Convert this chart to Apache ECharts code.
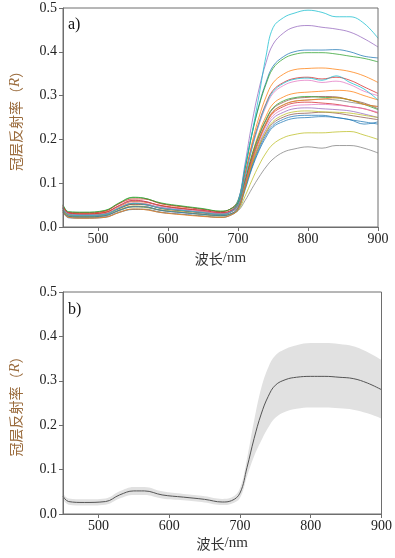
<!DOCTYPE html>
<html><head><meta charset="utf-8">
<script src="https://cdn.jsdelivr.net/npm/echarts@6/dist/echarts.min.js"></script>
<style>html,body{margin:0;padding:0;background:#fff}#c{width:395px;height:558px}</style>
</head><body><div id="c"></div>
<script>
// wavelengths (nm)
const wavelengths = [450, 458, 480, 510, 530, 550, 565, 590, 620, 650, 675, 688, 700, 710, 720, 730, 740, 750, 765, 780, 800, 820, 840, 860, 880, 900];

// panel a) individual canopy spectra
const spec0  = [0.046,0.031,0.029,0.033,0.048,0.059,0.058,0.048,0.042,0.037,0.032,0.036,0.058,0.132,0.213,0.279,0.330,0.367,0.389,0.400,0.404,0.404,0.405,0.400,0.390,0.386];
const spec1  = [0.047,0.030,0.030,0.034,0.047,0.058,0.057,0.049,0.043,0.036,0.031,0.036,0.056,0.121,0.192,0.251,0.297,0.329,0.349,0.359,0.362,0.363,0.360,0.355,0.345,0.330];
const spec2  = [0.050,0.034,0.033,0.037,0.054,0.067,0.066,0.054,0.047,0.041,0.036,0.040,0.061,0.133,0.212,0.276,0.326,0.362,0.384,0.394,0.398,0.398,0.395,0.390,0.385,0.377];
const spec3  = [0.049,0.033,0.032,0.036,0.053,0.064,0.064,0.053,0.046,0.040,0.035,0.040,0.058,0.119,0.185,0.239,0.282,0.312,0.330,0.339,0.342,0.338,0.342,0.335,0.320,0.305];
const spec4  = [0.042,0.028,0.026,0.029,0.043,0.053,0.052,0.043,0.038,0.033,0.029,0.033,0.059,0.144,0.238,0.315,0.375,0.417,0.443,0.456,0.460,0.456,0.452,0.445,0.430,0.411];
const spec5  = [0.043,0.027,0.027,0.030,0.042,0.052,0.051,0.044,0.038,0.034,0.030,0.033,0.049,0.101,0.159,0.207,0.243,0.270,0.285,0.293,0.296,0.298,0.297,0.290,0.283,0.270];
const spec6  = [0.045,0.031,0.028,0.032,0.048,0.060,0.059,0.047,0.041,0.037,0.032,0.036,0.054,0.114,0.180,0.233,0.275,0.305,0.323,0.332,0.335,0.330,0.333,0.325,0.310,0.300];
const spec7  = [0.038,0.025,0.023,0.026,0.038,0.047,0.046,0.038,0.033,0.029,0.026,0.029,0.037,0.060,0.088,0.114,0.137,0.155,0.171,0.178,0.183,0.180,0.186,0.186,0.180,0.169];
const spec8  = [0.039,0.024,0.024,0.027,0.037,0.046,0.045,0.039,0.034,0.028,0.025,0.029,0.038,0.070,0.107,0.141,0.169,0.189,0.204,0.211,0.215,0.215,0.217,0.218,0.210,0.200];
const spec9  = [0.041,0.029,0.027,0.029,0.044,0.054,0.053,0.044,0.038,0.033,0.029,0.033,0.058,0.137,0.215,0.300,0.390,0.455,0.478,0.488,0.495,0.490,0.480,0.480,0.465,0.431];
const spec10 = [0.034,0.021,0.020,0.022,0.033,0.040,0.040,0.033,0.029,0.025,0.022,0.026,0.039,0.084,0.134,0.174,0.205,0.228,0.241,0.248,0.250,0.252,0.250,0.245,0.240,0.235];
const spec11 = [0.044,0.028,0.026,0.030,0.044,0.054,0.053,0.043,0.037,0.033,0.029,0.033,0.050,0.105,0.165,0.215,0.253,0.281,0.297,0.305,0.308,0.310,0.312,0.310,0.300,0.290];
const spec12 = [0.051,0.035,0.034,0.038,0.055,0.068,0.066,0.055,0.048,0.042,0.036,0.040,0.055,0.107,0.164,0.210,0.246,0.272,0.288,0.295,0.298,0.296,0.295,0.290,0.280,0.268];
const spec13 = [0.046,0.032,0.030,0.033,0.049,0.061,0.059,0.049,0.042,0.038,0.033,0.036,0.051,0.101,0.156,0.200,0.235,0.260,0.275,0.283,0.285,0.283,0.280,0.275,0.270,0.260];
const spec14 = [0.037,0.025,0.022,0.025,0.038,0.047,0.047,0.038,0.033,0.029,0.026,0.029,0.044,0.092,0.146,0.189,0.223,0.248,0.262,0.270,0.272,0.270,0.268,0.265,0.258,0.250];
const spec15 = [0.042,0.028,0.025,0.029,0.042,0.052,0.052,0.042,0.037,0.032,0.029,0.033,0.047,0.092,0.142,0.183,0.215,0.237,0.251,0.258,0.260,0.262,0.260,0.255,0.250,0.245];
const spec16 = [0.043,0.029,0.026,0.029,0.044,0.055,0.054,0.044,0.039,0.034,0.030,0.033,0.048,0.097,0.151,0.195,0.230,0.254,0.269,0.277,0.279,0.280,0.278,0.275,0.270,0.262];
const spec17 = [0.035,0.022,0.021,0.023,0.034,0.041,0.041,0.034,0.029,0.025,0.022,0.026,0.042,0.095,0.153,0.200,0.237,0.264,0.279,0.287,0.290,0.292,0.290,0.285,0.280,0.275];
const spec18 = [0.038,0.026,0.023,0.026,0.039,0.048,0.047,0.038,0.034,0.029,0.026,0.029,0.043,0.090,0.142,0.185,0.218,0.241,0.256,0.263,0.265,0.263,0.262,0.260,0.255,0.250];
const spec19 = [0.042,0.028,0.026,0.029,0.043,0.054,0.052,0.043,0.038,0.033,0.029,0.033,0.051,0.113,0.180,0.236,0.279,0.309,0.328,0.337,0.340,0.335,0.345,0.330,0.315,0.290];
const spec20 = [0.037,0.024,0.023,0.026,0.038,0.046,0.046,0.038,0.033,0.029,0.026,0.029,0.043,0.088,0.137,0.178,0.210,0.232,0.246,0.253,0.255,0.255,0.250,0.245,0.235,0.240];
const spec21 = [0.034,0.022,0.020,0.022,0.033,0.041,0.040,0.033,0.028,0.024,0.022,0.026,0.040,0.090,0.148,0.197,0.235,0.263,0.279,0.287,0.290,0.292,0.295,0.290,0.280,0.275];

// panel b) mean and band
const meanCurve  = [0.040,0.028,0.026,0.028,0.043,0.052,0.052,0.043,0.038,0.033,0.027,0.030,0.047,0.105,0.170,0.225,0.265,0.290,0.303,0.308,0.310,0.310,0.308,0.305,0.295,0.280];
const upperCurve = [0.047,0.035,0.033,0.035,0.051,0.061,0.061,0.051,0.045,0.040,0.034,0.037,0.058,0.125,0.210,0.283,0.330,0.357,0.372,0.380,0.385,0.385,0.383,0.378,0.365,0.347];
const lowerCurve = [0.033,0.021,0.019,0.021,0.035,0.043,0.043,0.035,0.031,0.026,0.020,0.023,0.036,0.085,0.130,0.165,0.195,0.217,0.231,0.237,0.240,0.240,0.238,0.235,0.227,0.215];

const xTicks = [500, 600, 700, 800, 900];
const specColors = ['#1f77b4','#ff7f0e','#2ca02c','#d62728','#9467bd','#8c564b','#e377c2','#7f7f7f','#bcbd22','#17becf'];

const spectra = [spec0,spec1,spec2,spec3,spec4,spec5,spec6,spec7,spec8,spec9,spec10,spec11,spec12,spec13,spec14,spec15,spec16,spec17,spec18,spec19,spec20,spec21];
const pairs = arr => arr.map((v, i) => [wavelengths[i], v]);

const serif = 'Liberation Serif';
const cjk = 'Noto Sans CJK SC';
const axisCol = '#6e6e6e';
const SMOOTH = 0.4;

function xAxis(gi, gap) {
  return {
    type: 'value', gridIndex: gi, min: 450, max: 900, z: 10,
    axisLine: { show: true, onZero: false, lineStyle: { color: axisCol, width: 1 } },
    axisTick: { show: true, customValues: xTicks, length: 4, lineStyle: { color: axisCol } },
    axisLabel: { customValues: xTicks, fontFamily: serif, fontSize: 14, color: '#222', margin: 5 },
    splitLine: { show: false },
    name: '{c|波长}{s|/nm}', nameLocation: 'middle', nameGap: gap,
    nameTextStyle: { rich: { c: { fontFamily: cjk, fontSize: 14, color: '#333' }, s: { fontFamily: serif, fontSize: 15, color: '#333' } } }
  };
}
function yAxis(gi) {
  return {
    type: 'value', gridIndex: gi, min: 0, max: 0.5, interval: 0.1, z: 10,
    axisLine: { show: true, onZero: false, lineStyle: { color: axisCol, width: 1 } },
    axisTick: { show: true, length: 4, lineStyle: { color: axisCol } },
    axisLabel: { formatter: v => v.toFixed(1), fontFamily: serif, fontSize: 14, color: '#222', margin: 6 },
    splitLine: { show: false },
    name: '{c|冠层反射率（}{i|R}{c|）}', nameLocation: 'middle', nameGap: 40,
    nameTextStyle: { rich: {
      c: { fontFamily: cjk, fontSize: 14, color: '#9a6b3c' },
      i: { fontFamily: serif, fontStyle: 'italic', fontSize: 15, color: '#9a6b3c' } } }
  };
}

const series = spectra.map((s, k) => ({
  type: 'line', xAxisIndex: 0, yAxisIndex: 0, data: pairs(s), showSymbol: false, smooth: SMOOTH,
  lineStyle: { width: 1, color: specColors[k % 10], opacity: 0.75 }, silent: true
}));

// band: upper filled grey to the axis, lower filled white on top of it
series.push({
  type: 'line', xAxisIndex: 1, yAxisIndex: 1, data: pairs(upperCurve), showSymbol: false, smooth: SMOOTH,
  lineStyle: { width: 0, opacity: 0 }, areaStyle: { color: '#e1e1e1', opacity: 1 }, silent: true, z: 2
});
series.push({
  type: 'line', xAxisIndex: 1, yAxisIndex: 1, data: pairs(lowerCurve), showSymbol: false, smooth: SMOOTH,
  lineStyle: { width: 0, opacity: 0 }, areaStyle: { color: '#ffffff', opacity: 1 }, silent: true, z: 3
});
series.push({
  type: 'line', xAxisIndex: 1, yAxisIndex: 1, data: pairs(meanCurve), showSymbol: false, smooth: SMOOTH,
  lineStyle: { width: 1, color: '#555555' }, silent: true, z: 4
});

const chart = echarts.init(document.getElementById('c'), null, { renderer: 'canvas' });
chart.setOption({
  animation: false,
  backgroundColor: '#ffffff',
  grid: [
    { left: 59, top: 8, width: 319, height: 219, show: true, z: 10, borderColor: axisCol, borderWidth: 1, backgroundColor: 'transparent' },
    { left: 59, top: 292, width: 325, height: 222, show: true, z: 10, borderColor: axisCol, borderWidth: 1, backgroundColor: 'transparent' }
  ],
  xAxis: [xAxis(0, 24), xAxis(1, 22)],
  yAxis: [yAxis(0), yAxis(1)],
  graphic: [
    { type: 'text', left: 68, top: 17, style: { text: 'a)', font: '16px "Liberation Serif"', fill: '#111' } },
    { type: 'text', left: 68, top: 302, style: { text: 'b)', font: '16px "Liberation Serif"', fill: '#111' } }
  ],
  series: series
});
</script>
</body></html>
